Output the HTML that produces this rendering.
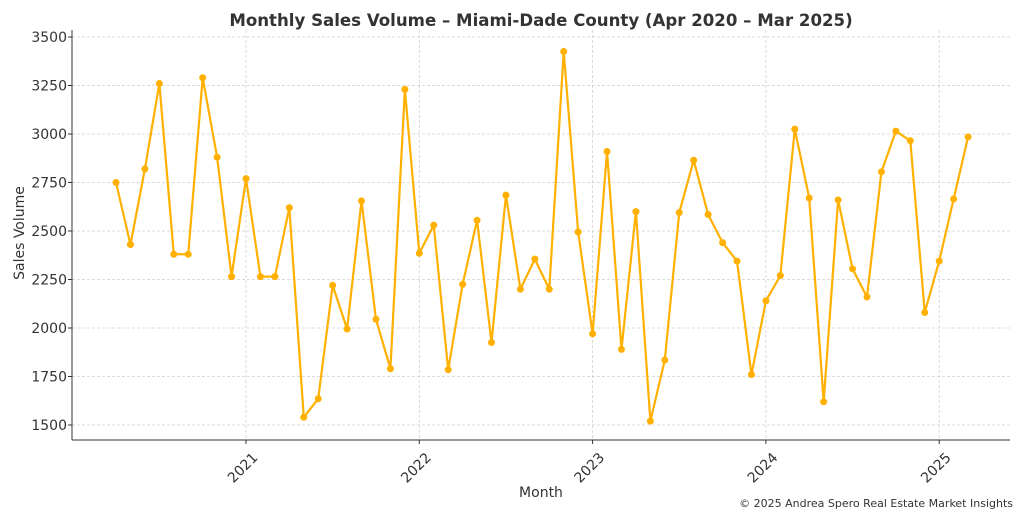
<!DOCTYPE html>
<html><head><meta charset="utf-8">
<style>
body{margin:0;background:#fff;font-family:"Liberation Sans","DejaVu Sans",sans-serif;}
svg text{font-family:"DejaVu Sans","Liberation Sans",sans-serif;}
</style></head>
<body>
<svg id="chart" width="1024" height="512" viewBox="0 0 1024 512" xmlns="http://www.w3.org/2000/svg">
<text x="541" y="26" text-anchor="middle" font-size="16.6" font-weight="bold" fill="#333">Monthly Sales Volume – Miami-Dade County (Apr 2020 – Mar 2025)</text>
<g id="grid"></g>
<g id="axes"></g>
<g id="series"></g>
<text x="541" y="497" text-anchor="middle" font-size="14" fill="#333">Month</text>
<text transform="translate(24,233) rotate(-90)" text-anchor="middle" font-size="14" fill="#333">Sales Volume</text>
<text x="1013" y="507" text-anchor="end" font-size="11" fill="#333">© 2025 Andrea Spero Real Estate Market Insights</text>
</svg>
<script>
const startYear = 2020, startMonth = 4;
const salesValues = [2750,2430,2820,3260,2380,2380,3290,2880,2265,
 2770,2265,2265,2620,1540,1635,2220,1995,2655,2045,1790,3230,
 2385,2530,1785,2225,2555,1925,2685,2200,2355,2200,3425,2495,
 1970,2910,1890,2600,1520,1835,2595,2865,2585,2440,2345,1760,
 2140,2270,3025,2670,1620,2660,2305,2160,2805,3015,2965,2080,
 2345,2665,2985];
const yTicks = [1500,1750,2000,2250,2500,2750,3000,3250,3500];
const xTickYears = [2021,2022,2023,2024,2025];

const NS="http://www.w3.org/2000/svg";
const plotLeft=72,plotRight=1010,plotTop=30,plotBottom=440;
function yScale(v){return 425-(v-1500)/2000*388;}
function xScale(monthIndex){return 246+monthIndex*(173.3/12);}
function idx(i){return (startYear-2021)*12+(startMonth-1)+i;}
function mk(tag,attrs,parent){const e=document.createElementNS(NS,tag);for(const k in attrs)e.setAttribute(k,attrs[k]);parent.appendChild(e);return e;}
const grid=document.getElementById('grid'),axes=document.getElementById('axes'),series=document.getElementById('series');

yTicks.forEach(t=>{
  const y=yScale(t);
  const g=mk('line',{x1:plotLeft,x2:plotRight,y1:y,y2:y,stroke:'#d0d0d0','stroke-dasharray':'3,2','stroke-width':0.8},grid);
  
  
  mk('line',{x1:plotLeft-4,x2:plotLeft,y1:y,y2:y,stroke:'#333'},axes);
  const tx=mk('text',{x:plotLeft-5,y:y+5,'text-anchor':'end','font-size':14,fill:'#333'},axes);
  tx.textContent=t;
  
  
});
xTickYears.forEach(yr=>{
  const x=xScale((yr-2021)*12);
  const g=mk('line',{x1:x,x2:x,y1:plotTop,y2:plotBottom,stroke:'#d0d0d0','stroke-dasharray':'3,2','stroke-width':0.8},grid);
  
  
  mk('line',{x1:x,x2:x,y1:plotBottom,y2:plotBottom+4,stroke:'#333'},axes);
  const tx=mk('text',{transform:`translate(${x},${plotBottom+31}) rotate(-45)`,'text-anchor':'middle','font-size':14,fill:'#333'},axes);
  tx.textContent=yr;
  
  
});
mk('line',{x1:plotLeft,x2:plotLeft,y1:plotTop,y2:plotBottom,stroke:'#333','stroke-width':1},axes);
mk('line',{x1:plotLeft,x2:plotRight,y1:plotBottom,y2:plotBottom,stroke:'#333','stroke-width':1},axes);

const pts=salesValues.map((v,i)=>[xScale(idx(i)),yScale(v)]);
const line=mk('polyline',{points:pts.map(p=>p.join(',')).join(' '),fill:'none',stroke:'#FFB000','stroke-width':2.2,'stroke-linejoin':'round'},series);


pts.forEach(p=>{
  const c=mk('circle',{cx:p[0],cy:p[1],r:3.5,fill:'#FFB000'},series);
  
  
});
</script>
</body></html>
